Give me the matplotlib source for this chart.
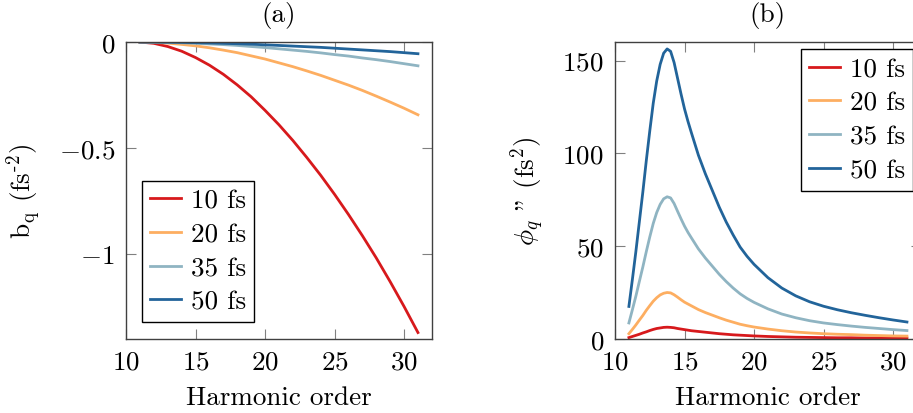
import numpy as np
import matplotlib.pyplot as plt

# Computer Modern look, like pgfplots
plt.rcParams['font.family'] = ['cmr10', 'DejaVu Serif']
plt.rcParams['mathtext.fontset'] = 'cm'
plt.rcParams['axes.formatter.use_mathtext'] = True
plt.rcParams['axes.unicode_minus'] = True

labels = ['10 fs', '20 fs', '35 fs', '50 fs']
colors = ['#d7191c', '#fdae61', '#8fb4c2', '#22649a']

# (a) b_q
order_a = list(range(11, 32))
bq_10 = [0, -0.006, -0.021, -0.043, -0.073, -0.109, -0.152, -0.202, -0.258, -0.322,
         -0.39, -0.464, -0.544, -0.628, -0.718, -0.813, -0.913, -1.018, -1.13, -1.247, -1.37]
bq_20 = [0, -0.0015, -0.005, -0.011, -0.018, -0.027, -0.038, -0.05, -0.065, -0.08,
         -0.098, -0.116, -0.136, -0.157, -0.18, -0.203, -0.228, -0.255, -0.283, -0.312, -0.343]
bq_35 = [0, -0.0005, -0.0017, -0.0035, -0.006, -0.009, -0.012, -0.016, -0.021, -0.026,
         -0.032, -0.038, -0.044, -0.051, -0.059, -0.066, -0.075, -0.083, -0.092, -0.102, -0.112]
bq_50 = [0, -0.0002, -0.0008, -0.0017, -0.003, -0.0044, -0.006, -0.008, -0.010, -0.013,
         -0.016, -0.019, -0.022, -0.025, -0.029, -0.033, -0.037, -0.041, -0.045, -0.050, -0.055]

# (b) phi_q''
order_b = [11, 11.25, 11.5, 11.75, 12, 12.25, 12.5, 12.75, 13, 13.25,
           13.5, 13.75, 14, 14.25, 14.5, 14.75, 15, 15.25, 15.5, 16,
           16.5, 17, 17.5, 18, 18.5, 19, 19.5, 20, 21, 22,
           23, 24, 25, 26, 27, 28, 29, 30, 31]
phi_10 = [0.7, 1.3, 1.9, 2.5, 3.2, 3.8, 4.5, 5.1, 5.6, 5.9,
          6.2, 6.3, 6.2, 6.0, 5.6, 5.3, 5.0, 4.7, 4.4, 4.0,
          3.6, 3.2, 2.8, 2.5, 2.2, 2.0, 1.8, 1.6, 1.3, 1.1,
          0.9, 0.8, 0.7, 0.6, 0.6, 0.5, 0.5, 0.4, 0.4]
phi_20 = [2.8, 5.1, 7.5, 10.1, 12.6, 15.4, 17.9, 20.3, 22.2, 23.7,
          24.6, 25.0, 24.8, 23.8, 22.5, 21.1, 19.8, 18.8, 17.8, 15.8,
          14.2, 12.8, 11.4, 10.1, 9.0, 7.9, 7.1, 6.4, 5.3, 4.4,
          3.7, 3.2, 2.8, 2.5, 2.3, 2.0, 1.8, 1.6, 1.5]
phi_35 = [8.6, 15.7, 23.0, 30.9, 38.7, 47.0, 54.9, 62.2, 68.1, 72.5,
          75.5, 76.6, 76.0, 73.0, 68.8, 64.7, 60.8, 57.4, 54.4, 48.5,
          43.6, 39.2, 34.8, 30.9, 27.4, 24.3, 21.8, 19.7, 16.2, 13.4,
          11.4, 9.8, 8.6, 7.7, 6.9, 6.2, 5.6, 5.0, 4.5]
phi_50 = [17.5, 32, 47, 63, 79, 96, 112, 127, 139, 148,
          154, 156.3, 155, 149, 140.5, 132, 124, 117.2, 111, 99,
          89, 80, 71, 63, 56, 49.5, 44.5, 40.2, 33, 27.4,
          23.2, 20, 17.6, 15.7, 14.1, 12.7, 11.4, 10.2, 9.1]

fig = plt.figure(figsize=(9.13, 4.14), dpi=100)
ax1 = fig.add_axes([0.138, 0.179, 0.335, 0.717])
ax2 = fig.add_axes([0.6736, 0.179, 0.335, 0.717])

fs = 19.5

for y, c, lab in zip([bq_10, bq_20, bq_35, bq_50], colors, labels):
    ax1.plot(order_a, y, color=c, lw=2.0, label=lab)
for y, c, lab in zip([phi_10, phi_20, phi_35, phi_50], colors, labels):
    ax2.plot(order_b, y, color=c, lw=2.0, label=lab)

ax1.set_xlim(10, 32)
ax1.set_ylim(-1.40, 0)
ax1.set_xticks([10, 15, 20, 25, 30])
ax1.set_yticks([-1, -0.5, 0])
ax1.set_yticklabels(['$-1$', '$-0.5$', '$0$'])
ax1.set_ylabel(r'$\mathrm{b_q}$ (fs$^{\text{-2}}$)', fontsize=fs)
ax1.yaxis.set_label_coords(-0.27, 0.5)
ax1.set_title('(a)', fontsize=fs, pad=15)

ax2.set_xlim(10, 32)
ax2.set_ylim(0, 160)
ax2.set_xticks([10, 15, 20, 25, 30])
ax2.set_yticks([0, 50, 100, 150])
ax2.set_ylabel(r'$\phi_q$ " (fs$^2$)', fontsize=fs)
ax2.yaxis.set_label_coords(-0.222, 0.5)
ax2.set_title('(b)', fontsize=fs, pad=15)

for ax in (ax1, ax2):
    ax.set_xlabel('Harmonic order', fontsize=fs, labelpad=8)
    ax.tick_params(direction='in', length=7.5, width=0.8, color='#808080',
                   top=True, right=True, labelsize=fs, pad=8)
    for sp in ax.spines.values():
        sp.set_color('#404040')
        sp.set_linewidth(1.0)

leg_kw = dict(fontsize=fs, frameon=True, fancybox=False, framealpha=1,
              edgecolor='black', handlelength=1.15, handletextpad=0.35,
              labelspacing=0.36, borderpad=0.3, borderaxespad=0)
l1 = ax1.legend(loc='lower left', bbox_to_anchor=(0.052, 0.057), **leg_kw)
l2 = ax2.legend(loc='upper left', bbox_to_anchor=(0.608, 0.976), **leg_kw)
for l in (l1, l2):
    l.get_frame().set_linewidth(1.0)

fig.savefig('out.png', dpi=100)
